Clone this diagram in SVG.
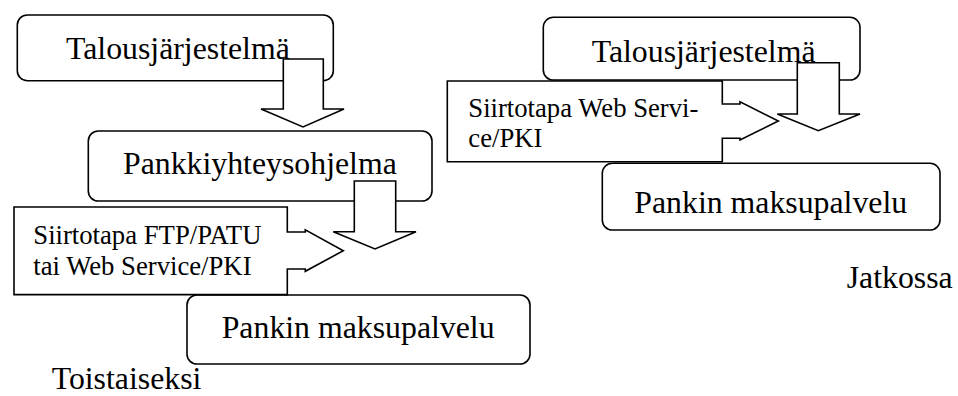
<svg xmlns="http://www.w3.org/2000/svg" width="958" height="396" viewBox="0 0 958 396">
  <style>
    .box { fill: #ffffff; stroke: #000000; stroke-width: 1.6; }
    .callout { fill: #ffffff; stroke: #000000; stroke-width: 1.6; stroke-linejoin: miter; }
    .flow { fill: #ffffff; stroke: #000000; stroke-width: 1.6; stroke-linejoin: miter; }
    text { font-family: 'Liberation Serif', 'Times New Roman', serif; fill: #000000; }
    .big { font-size: 31.8px; }
    .small { font-size: 26.7px; }
  </style>
  <rect width="958" height="396" fill="#ffffff"/>

  <!-- Left column: current arrangement -->
  <g id="left-talous">
    <rect class="box" x="17.3" y="15" width="316" height="65.7" rx="10" ry="10"/>
    <text class="big" x="66" y="59.3">Talousjärjestelmä</text>
  </g>
  <g id="left-pankkiyhteys">
    <rect class="box" x="88.3" y="131" width="343.7" height="70" rx="10" ry="10"/>
    <text class="big" x="123" y="174">Pankkiyhteysohjelma</text>
  </g>
  <g id="left-pankki">
    <rect class="box" x="187" y="295" width="343" height="69" rx="10" ry="10"/>
    <text class="big" x="221.7" y="338.3">Pankin maksupalvelu</text>
  </g>
  <g id="left-siirtotapa">
    <path class="callout" d="M14,207 H287.3 V232 H305.3 V229.8 L343.3,250.7 L305.3,271.3 V269 H287.3 V294.6 H14 Z"/>
    <text class="small" x="33.3" y="244.3">Siirtotapa FTP/PATU</text>
    <text class="small" x="33.3" y="275">tai Web Service/PKI</text>
  </g>
  <g id="label-toistaiseksi">
    <text class="big" x="51.7" y="389">Toistaiseksi</text>
  </g>

  <!-- Right column: future arrangement -->
  <g id="right-talous">
    <rect class="box" x="543.3" y="17.3" width="316.7" height="62.7" rx="10" ry="10"/>
    <text class="big" x="591.7" y="61.7">Talousjärjestelmä</text>
  </g>
  <g id="right-pankki">
    <rect class="box" x="602.3" y="163.3" width="337.7" height="66.7" rx="10" ry="10"/>
    <text class="big" x="634.3" y="213.3">Pankin maksupalvelu</text>
  </g>
  <g id="right-siirtotapa">
    <path class="callout" d="M447.3,81 H722.3 V104 H740 V101.7 L778.3,121 L740,140 V138.3 H722.3 V161.7 H447.3 Z"/>
    <text class="small" x="468.3" y="117.3">Siirtotapa Web Servi-</text>
    <text class="small" x="468.3" y="147.3">ce/PKI</text>
  </g>
  <g id="label-jatkossa">
    <text class="big" x="846.7" y="288.3">Jatkossa</text>
  </g>

  <!-- Block arrows between the stages -->
  <g id="connectors">
    <path class="flow" d="M283.3,59 H323.3 V109 H344 L303,127 L261,109 H283.3 Z"/>
    <path class="flow" d="M354.3,181 H395.7 V231.7 H416 L375,249 L333.3,231.7 H354.3 Z"/>
    <path class="flow" d="M797.3,62.7 H839.3 V114 H860 L818.3,130.7 L777.3,114 H797.3 Z"/>
  </g>
</svg>
